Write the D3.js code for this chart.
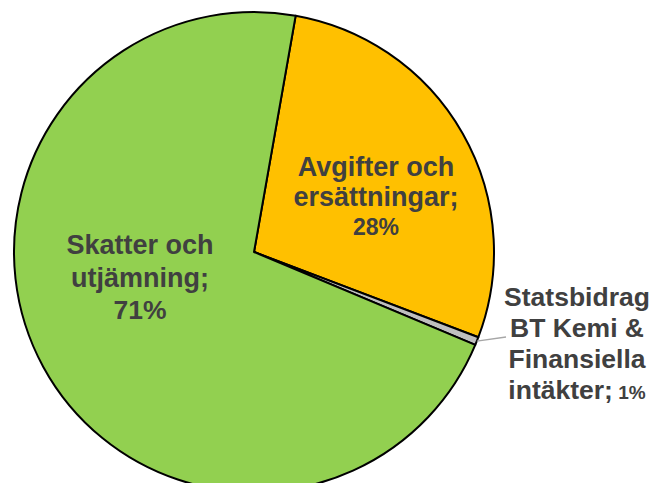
<!DOCTYPE html>
<html>
<head>
<meta charset="utf-8">
<script src="https://cdn.jsdelivr.net/npm/d3@7"></script>
<style>
  html, body { margin: 0; padding: 0; background: #ffffff; }
  svg { display: block; }
</style>
</head>
<body>
<svg id="chart" width="656" height="483"></svg>
<script>
// ---- data ----
const categories = ["Avgifter och ersättningar", "Statsbidrag BT Kemi & Finansiella intäkter", "Skatter och utjämning"];
const values = [28.0, 0.55, 71.45];
const percentLabels = ["28%", "1%", "71%"];
const nameLines = [["Avgifter och", "ersättningar;"], ["Statsbidrag", "BT Kemi &", "Finansiella", "intäkter;"], ["Skatter och", "utjämning;"]];
const colors = ["#FFC000", "#BFBFBF", "#92D050"];

// ---- layout ----
const W = 656, H = 483;
const cx = 254, cy = 252, R = 240;
const startDeg = 10;
const labelLayout = [
  { dx: 122, dy: -76, lh: 29.5, nameSize: 27, pctSize: 23, inline: false },
  { dx: 323, dy: 54, lh: 31, nameSize: 26.5, pctSize: 19, inline: true },
  { dx: -114, dy: 2, lh: 32.5, nameSize: 27, pctSize: 26.5, inline: false }
];

const svg = d3.select("#chart");
const g = svg.append("g").attr("transform", `translate(${cx},${cy})`);

const pie = d3.pie().sort(null).value(d => d)
  .startAngle(startDeg * Math.PI / 180)
  .endAngle((startDeg + 360) * Math.PI / 180);
const arcs = pie(values);
const arc = d3.arc().innerRadius(0).outerRadius(R);

g.selectAll("path.slice").data(arcs).enter().append("path")
  .attr("class", "slice")
  .attr("d", arc)
  .attr("fill", (d, i) => colors[i])
  .attr("stroke", "#000")
  .attr("stroke-width", 2)
  .attr("stroke-linejoin", "round");

// leader line for small slice
const small = arcs[1];
const mid = (small.startAngle + small.endAngle) / 2;
const p0 = [R * Math.sin(mid), -R * Math.cos(mid)];
g.append("line")
  .attr("x1", p0[0]).attr("y1", p0[1])
  .attr("x2", labelLayout[1].dx - 71).attr("y2", labelLayout[1].dy + labelLayout[1].lh)
  .attr("stroke", "#A6A6A6").attr("stroke-width", 1.3);

// labels
arcs.forEach((d, i) => {
  const L = labelLayout[i];
  const t = g.append("text")
    .attr("text-anchor", "middle")
    .attr("font-family", "'Liberation Sans', Arial, sans-serif")
    .attr("font-weight", "bold")
    .attr("fill", "#404040");
  const lines = nameLines[i];
  lines.forEach((ln, k) => {
    const ts = t.append("tspan")
      .attr("x", L.dx)
      .attr("y", L.dy + k * L.lh)
      .attr("font-size", L.nameSize)
      .text(ln);
    if (L.inline && k === lines.length - 1) {
      ts.append("tspan").attr("font-size", L.pctSize).text(" " + percentLabels[i]);
    }
  });
  if (!L.inline) {
    t.append("tspan")
      .attr("x", L.dx)
      .attr("y", L.dy + lines.length * L.lh)
      .attr("font-size", L.pctSize)
      .text(percentLabels[i]);
  }
});
</script>
</body>
</html>
